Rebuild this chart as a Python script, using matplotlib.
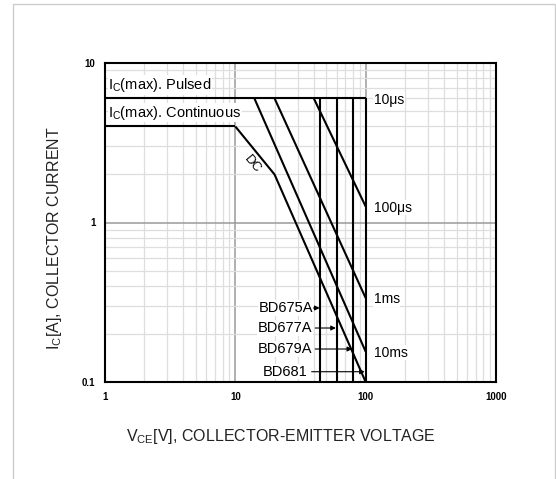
import matplotlib
matplotlib.use("Agg")
import matplotlib.pyplot as plt
from matplotlib.patches import Rectangle
from matplotlib.ticker import LogLocator, FixedLocator, NullFormatter

plt.rcParams['font.family'] = ['Liberation Sans', 'DejaVu Sans']
plt.rcParams['mathtext.fontset'] = 'custom'
plt.rcParams['mathtext.rm'] = 'Liberation Sans'
plt.rcParams['mathtext.it'] = 'Liberation Sans'

# ---- data ----
pulsed_v = [1, 100]
pulsed_i = [6, 6]
cont_v = [1, 10]
cont_i = [4, 4]
dc_v = [10, 20, 100]
dc_i = [4, 2, 0.1]
t100us_v = [40, 100]
t100us_i = [6, 1.26]
t1ms_v = [20, 100]
t1ms_i = [6, 0.336]
t10ms_v = [14, 100]
t10ms_i = [6, 0.155]
bvceo_v = [45, 60, 80, 100]
bvceo_top = 6
bvceo_bot = 0.1
device_names = ["BD675A", "BD677A", "BD679A", "BD681"]
device_label_i = [0.291, 0.218, 0.161, 0.116]
device_text_end_v = [39.3, 39.0, 39.0, 35.5]
device_arrow_start_v = [39.8, 41.0, 41.0, 38.5]
time_labels = ["10\u03bcs", "100\u03bcs", "1ms", "10ms"]
time_label_i = [5.9, 1.24, 0.33, 0.153]
x_ticks = [1, 10, 100, 1000]
x_tick_labels = ["1", "10", "100", "1000"]
y_ticks = [0.1, 1, 10]
y_tick_labels = ["0.1", "1", "10"]

W, H = 556, 479
fig = plt.figure(figsize=(W / 100, H / 100), dpi=100)
fig.patch.set_facecolor('white')
# outer light border
fig.patches.append(Rectangle((13 / W, -0.01), (555 - 13) / W, (479 - 4) / H + 0.01,
                             transform=fig.transFigure, fill=False,
                             edgecolor='#cccccc', lw=1.0))

ax = fig.add_axes([105 / W, (H - 382) / H, (496 - 105) / W, (382 - 63) / H])
ax.set_xscale('log')
ax.set_yscale('log')
ax.set_xlim(1, 1000)
ax.set_ylim(0.1, 10)

# grid
ax.xaxis.set_major_locator(FixedLocator(x_ticks))
ax.yaxis.set_major_locator(FixedLocator(y_ticks))
ax.xaxis.set_minor_locator(LogLocator(base=10, subs=range(2, 10)))
ax.yaxis.set_minor_locator(LogLocator(base=10, subs=range(2, 10)))
ax.xaxis.set_minor_formatter(NullFormatter())
ax.yaxis.set_minor_formatter(NullFormatter())
ax.grid(True, which='minor', color='#dedede', lw=0.9)
ax.grid(True, which='major', color='#9a9a9a', lw=1.1)
ax.set_axisbelow(True)
ax.tick_params(which='both', length=0)
ax.set_xticklabels(x_tick_labels, fontsize=7, fontweight='bold')
ax.set_yticklabels(y_tick_labels, fontsize=7, fontweight='bold')
ax.tick_params(axis='x', pad=7)
ax.tick_params(axis='y', pad=7)
for s in ax.spines.values():
    s.set_linewidth(1.5)
    s.set_color('black')

lw = 1.5
k = dict(color='black', lw=lw, zorder=3, solid_capstyle='butt')
ax.plot(pulsed_v, pulsed_i, **k)
ax.plot(cont_v, cont_i, **k)
ax.plot(dc_v, dc_i, **k)
ax.plot(t100us_v, t100us_i, **k)
ax.plot(t1ms_v, t1ms_i, **k)
ax.plot(t10ms_v, t10ms_i, **k)
ax.vlines(bvceo_v, bvceo_bot, bvceo_top, color='black', lw=lw, zorder=3)

bb = dict(facecolor='white', edgecolor='none', pad=0.5)
ax.text(1.06, 7.3, r'I$_{\mathrm{C}}$(max). Pulsed', fontsize=10.5, va='center', ha='left',
        bbox=bb, zorder=4)
ax.text(1.06, 4.88, r'I$_{\mathrm{C}}$(max). Continuous', fontsize=10.5, va='center', ha='left',
        bbox=bb, zorder=4)
ax.text(13.6, 2.3, 'DC', fontsize=9.5, rotation=-50, ha='center', va='center', zorder=4)

for lab, yi in zip(time_labels, time_label_i):
    ax.text(115, yi, lab, fontsize=10, ha='left', va='center', bbox=bb, zorder=4)

for name, yi, xe, xs, xv in zip(device_names, device_label_i, device_text_end_v,
                                device_arrow_start_v, bvceo_v):
    ax.text(xe, yi, name, fontsize=10.5, ha='right', va='center', bbox=bb, zorder=4)
    ax.annotate('', xy=(xv * 0.985, yi), xytext=(xs, yi),
                arrowprops=dict(arrowstyle='-|>', color='black', lw=0.8,
                                mutation_scale=7, shrinkA=0, shrinkB=0), zorder=5)

fig.text(281 / W, 1 - 437 / H, r'V$_{\mathrm{CE}}$[V], COLLECTOR-EMITTER VOLTAGE',
         fontsize=11.5, ha='center', va='center', color='#222222')
fig.text(55 / W, 1 - 238 / H, r'I$_{\mathrm{C}}$[A], COLLECTOR CURRENT',
         fontsize=11.5, ha='center', va='center', rotation=90, color='#222222')

fig.savefig('out.png', dpi=100)
